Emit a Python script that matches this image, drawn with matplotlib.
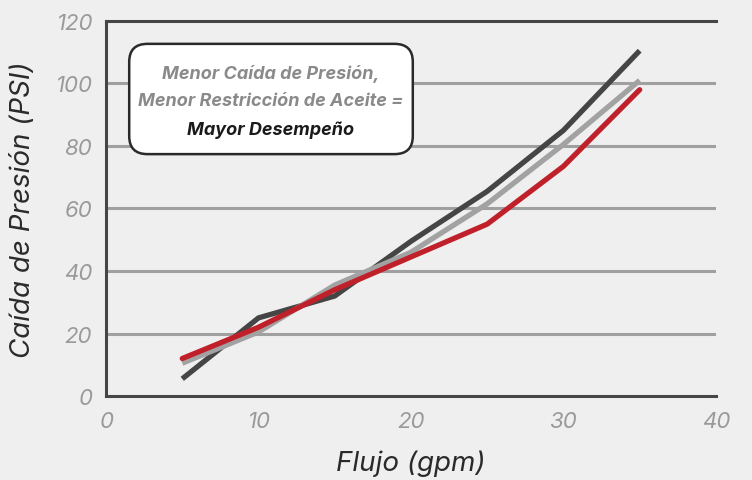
import matplotlib
matplotlib.use('Agg')
import matplotlib.pyplot as plt
from matplotlib.patches import FancyBboxPatch

# datos
flujo = [5, 10, 15, 20, 25, 30, 35]
serie_oscura = [5.5, 25, 32, 49.5, 65.5, 85, 110.5]
serie_gris = [10.5, 20.5, 35.5, 46, 61.5, 80.5, 101]
serie_roja = [12, 22, 34, 44.5, 55, 73.5, 98]

x_ticks = [0, 10, 20, 30, 40]
y_ticks = [0, 20, 40, 60, 80, 100, 120]

plt.rcParams['font.family'] = ['Inter', 'DejaVu Sans']

fondo = '#efefef'
fig = plt.figure(figsize=(7.52, 4.81), dpi=100, facecolor=fondo)
ax = fig.add_axes([0.141, 0.1746, 0.811, 0.7797], facecolor=fondo)

ax.set_xlim(0, 40)
ax.set_ylim(0, 120)

# líneas de la cuadrícula
for y in y_ticks[1:-1]:
    ax.axhline(y, color='#a0a0a0', lw=2.2, zorder=1)

ax.plot(flujo, serie_oscura, color='#454545', lw=3.8, zorder=3, solid_capstyle='butt')
ax.plot(flujo, serie_gris, color='#a2a2a2', lw=3.8, zorder=4, solid_capstyle='butt')
ax.plot(flujo, serie_roja, color='#c0202a', lw=3.8, zorder=5, solid_capstyle='round')

ax.spines['right'].set_visible(False)
for s in ['left', 'bottom', 'top']:
    ax.spines[s].set_color('#454545')
    ax.spines[s].set_linewidth(2.2)

ax.set_xticks(x_ticks)
ax.set_yticks(y_ticks)
ax.tick_params(length=0, labelsize=16, labelcolor='#9a9a9a')
ax.tick_params(axis='x', pad=11)
ax.tick_params(axis='y', pad=10)
for lbl in ax.get_xticklabels() + ax.get_yticklabels():
    lbl.set_style('italic')

ax.set_xlabel('Flujo (gpm)', fontsize=20, style='italic', color='#2a2a2a', labelpad=13)
ax.set_ylabel('Caída de Presión (PSI)', fontsize=20, style='italic', color='#2a2a2a', labelpad=14)

# cuadro de texto
caja = FancyBboxPatch((0.038, 0.645), 0.465, 0.294, transform=ax.transAxes,
                      boxstyle='round,pad=0,rounding_size=0.03',
                      facecolor='white', edgecolor='#2a2a2a', lw=1.8, zorder=6,
                      mutation_aspect=1.6)
ax.add_patch(caja)
ax.text(0.27, 0.861, 'Menor Caída de Presión,', transform=ax.transAxes, ha='center', va='center',
        fontsize=13, style='italic', fontweight='bold', color='#8a8a8a', zorder=7)
ax.text(0.27, 0.787, 'Menor Restricción de Aceite =', transform=ax.transAxes, ha='center', va='center',
        fontsize=13, style='italic', fontweight='bold', color='#8a8a8a', zorder=7)
ax.text(0.27, 0.712, 'Mayor Desempeño', transform=ax.transAxes, ha='center', va='center',
        fontsize=13, style='italic', fontweight='bold', color='#1a1a1a', zorder=7)

fig.savefig('out.png', dpi=100, facecolor=fondo)
